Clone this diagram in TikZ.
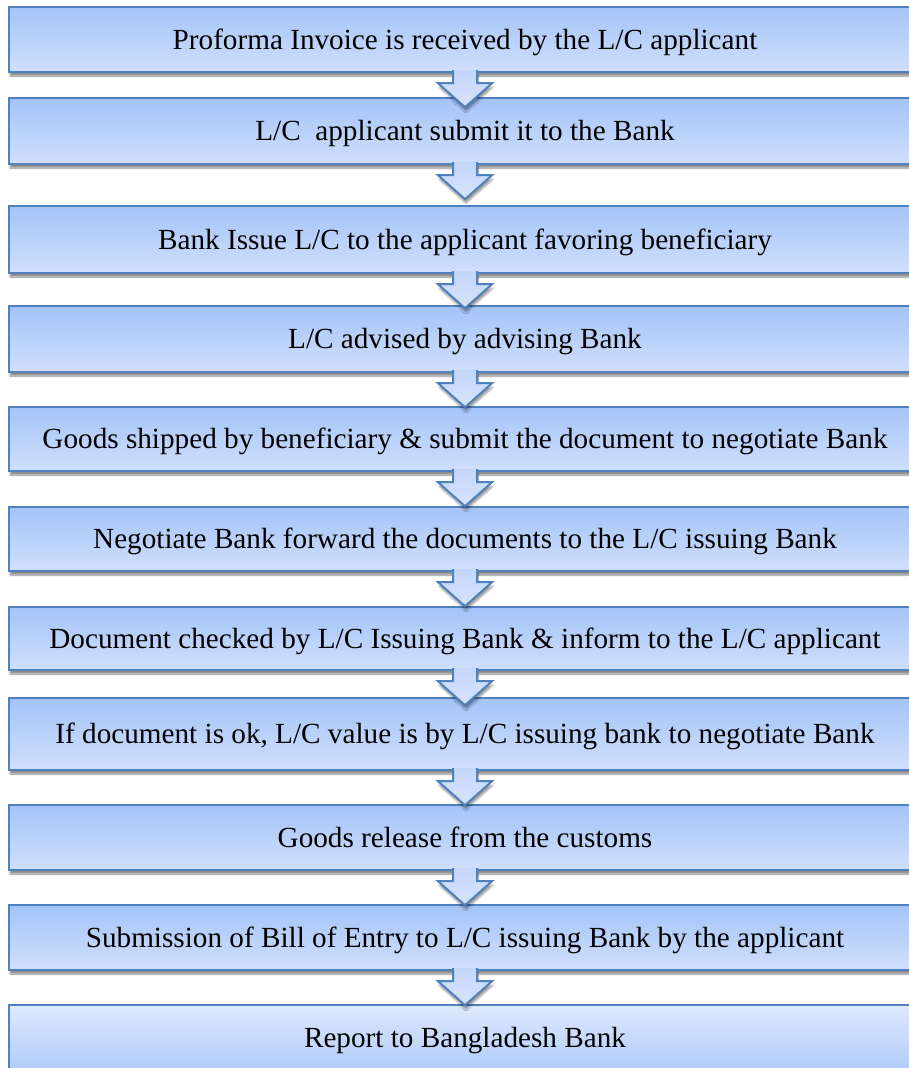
\documentclass[tikz,border=0pt]{standalone}
\usepackage{fontspec}
\setmainfont{Liberation Serif}
\usetikzlibrary{calc,shadows.blur}

\definecolor{edgeblue}{RGB}{79,129,189}
\definecolor{boxtop}{RGB}{164,196,248}
\definecolor{boxbot}{RGB}{208,223,251}
\definecolor{lasttop}{RGB}{222,233,252}
\definecolor{lastbot}{RGB}{176,203,248}
\definecolor{arrowtop}{RGB}{196,215,250}
\definecolor{arrowbot}{RGB}{214,227,252}

\tikzset{
  stepbox/.style={draw=edgeblue, line width=2.4pt, top color=boxtop, bottom color=boxbot,
    minimum width=912pt, inner sep=0pt, font=\fontsize{29.2}{34}\selectfont,
    text height=19pt, text depth=0pt,
    blur shadow={shadow xshift=1pt, shadow yshift=-4pt, shadow blur steps=6, shadow opacity=45}},
  laststep/.style={stepbox, top color=lasttop, bottom color=lastbot},
  flowarrow/.style={draw=edgeblue, line width=2pt, line join=miter, top color=arrowtop, bottom color=arrowbot,
    blur shadow={shadow xshift=1pt, shadow yshift=-4pt, shadow blur steps=5, shadow opacity=40}}
}

\begin{document}
\begin{tikzpicture}[x=1pt, y=-1pt]
  \useasboundingbox (0,0) rectangle (909,1068);
  \clip (0,0) rectangle (909,1068);

  % process steps
  \node[stepbox, minimum height=65pt] (b1) at (465,39.5) {Proforma Invoice is received by the L/C applicant};
  \node[stepbox, minimum height=66pt] (b2) at (465,131) {L/C~ applicant submit it to the Bank};
  \node[stepbox, minimum height=67pt] (b3) at (465,239.5) {Bank Issue L/C to the applicant favoring beneficiary};
  \node[stepbox, minimum height=66pt] (b4) at (465,339) {L/C advised by advising Bank};
  \node[stepbox, minimum height=64pt] (b5) at (465,439) {Goods shipped by beneficiary \& submit the document to negotiate Bank};
  \node[stepbox, minimum height=64pt] (b6) at (465,539) {Negotiate Bank forward the documents to the L/C issuing Bank};
  \node[stepbox, minimum height=63pt] (b7) at (465,638.5) {Document checked by L/C Issuing Bank \& inform to the L/C applicant};
  \node[stepbox, minimum height=72pt] (b8) at (465,734) {If document is ok, L/C value is by L/C issuing bank to negotiate Bank};
  \node[stepbox, minimum height=65pt] (b9) at (465,837.5) {Goods release from the customs};
  \node[stepbox, minimum height=65pt] (b10) at (465,937.5) {Submission of Bill of Entry to L/C issuing Bank by the applicant};
  \node[laststep, minimum height=66pt] (b11) at (465,1038) {Report to Bangladesh Bank};

  % block arrows between consecutive steps
  \foreach \a/\b in {b1/b2,b2/b3,b3/b4,b4/b5,b5/b6,b6/b7,b7/b8,b8/b9,b9/b10,b10/b11}{
    \filldraw[flowarrow]
      ($(\a.south)+(-12,-3)$) -- ($(\a.south)+(-12,10)$) -- ($(\a.south)+(-27,10)$)
      -- ($(\a.south)+(0,34)$)
      -- ($(\a.south)+(27,10)$) -- ($(\a.south)+(12,10)$) -- ($(\a.south)+(12,-3)$);
  }
\end{tikzpicture}
\end{document}
